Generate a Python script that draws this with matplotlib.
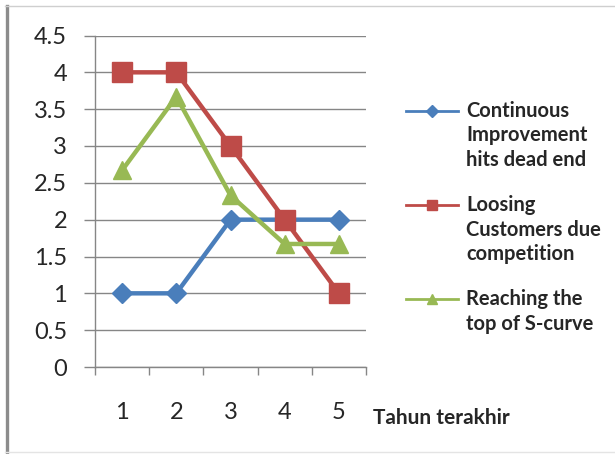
import matplotlib
matplotlib.use("Agg")
import matplotlib.pyplot as plt
from matplotlib.lines import Line2D
import numpy as np

categories = [1, 2, 3, 4, 5]
continuous = [1, 1, 2, 2, 2]
loosing = [4, 4, 3, 2, 1]
reaching = [2.67, 3.67, 2.33, 1.67, 1.67]
series_names = ["Continuous\nImprovement\nhits dead end",
                "Loosing\nCustomers due\ncompetition",
                "Reaching the\ntop of S-curve"]
yticks = [0, 0.5, 1, 1.5, 2, 2.5, 3, 3.5, 4, 4.5]
xlabel = "Tahun terakhir"

plt.rcParams['font.family'] = ['Lato', 'DejaVu Sans']

W, H = 615, 454
fig = plt.figure(figsize=(W / 100, H / 100), dpi=100)

def fx(px):
    return px / W

def fy(py):
    return 1 - py / H

ax = fig.add_axes([fx(95), fy(367), fx(366) - fx(95), fy(35.5) - fy(367)])

grey = "#868686"
txt = "#262626"
colors = ["#4A7EBB", "#BE4B48", "#98B954"]
markers = ["D", "s", "^"]
msizes = [10.5, 14.5, 13.5]
leg_ms = [6, 7.5, 7]

for vals, c, m, ms in zip([continuous, loosing, reaching], colors, markers, msizes):
    ax.plot(categories, vals, color=c, lw=3.2, marker=m, ms=ms, mec=c, mfc=c,
            clip_on=False, zorder=3)

ax.set_xlim(0.5, 5.5)
ax.set_ylim(0, 4.5)
ax.set_yticks(yticks)
ax.set_yticklabels([f"{v:g}" for v in yticks])
ax.yaxis.grid(True, color=grey, lw=1)
ax.set_axisbelow(True)

ax.set_xticks(np.arange(0.5, 6.0, 1.0))
ax.set_xticklabels([])
ax.set_xticks(categories, minor=True)
ax.set_xticklabels([str(c) for c in categories], minor=True)
ax.tick_params(axis='x', which='major', direction='out', length=6, width=1, color=grey)
ax.tick_params(axis='x', which='minor', length=0, pad=25, labelsize=17, labelcolor=txt)
ax.tick_params(axis='y', direction='out', length=8, width=1, color=grey, pad=12,
               labelsize=17, labelcolor=txt)

for s in ["top", "right"]:
    ax.spines[s].set_visible(False)
for s in ["left", "bottom"]:
    ax.spines[s].set_color(grey)
    ax.spines[s].set_linewidth(1)

fig.text(fx(373), fy(418), xlabel, fontsize=15, fontweight='bold', color=txt,
         ha='left', va='center')

# legend (drawn manually so that each handle sits on the first line of its label)
leg_y = [111, 205, 299]
line_step = 24.5
for name, c, m, ms, y0 in zip(series_names, colors, markers, leg_ms, leg_y):
    fig.add_artist(Line2D([fx(406), fx(458)], [fy(y0), fy(y0)], color=c, lw=2,
                          transform=fig.transFigure))
    fig.add_artist(Line2D([fx(432)], [fy(y0)], color=c, marker=m, ms=ms, mec=c, mfc=c,
                          transform=fig.transFigure))
    for i, part in enumerate(name.split("\n")):
        fig.text(fx(466), fy(y0 + i * line_step), part, fontsize=14.5, fontweight='bold',
                 color=txt, ha='left', va='center')

# frame borders
fig.add_artist(Line2D([fx(6.5), fx(6.5)], [fy(6), fy(454)], color="#8c8c8c", lw=2.4,
                      transform=fig.transFigure))
fig.add_artist(Line2D([fx(5), 1], [fy(6), fy(6)], color="#cfcfcf", lw=1,
                      transform=fig.transFigure))
fig.add_artist(Line2D([fx(5), 1], [fy(452), fy(452)], color="#e4e4e4", lw=1,
                      transform=fig.transFigure))

fig.savefig("out.png", dpi=100)
